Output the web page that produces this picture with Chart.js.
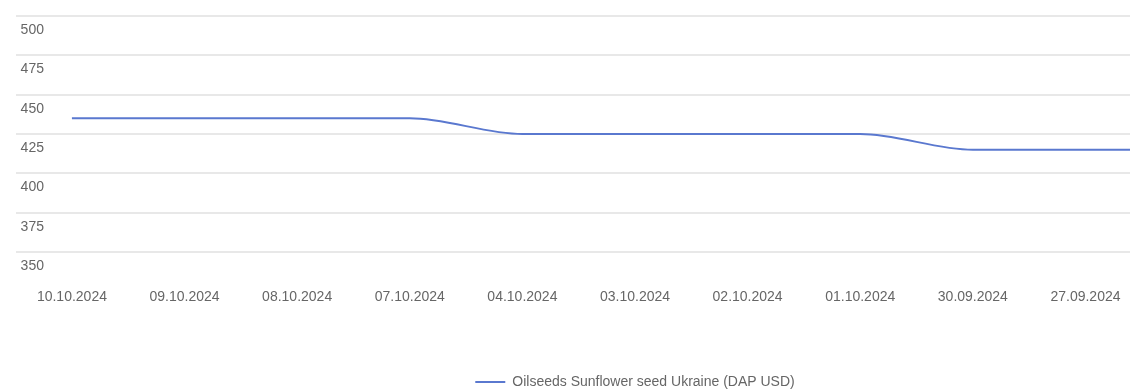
<!DOCTYPE html>
<html>
<head>
<meta charset="utf-8">
<script src="https://cdn.jsdelivr.net/npm/chart.js@4.4.1/dist/chart.umd.min.js"></script>
<style>
  html, body { margin: 0; padding: 0; background: #fff; overflow: hidden; }
  #wrap { position: relative; width: 1270px; height: 399px; }
</style>
</head>
<body>
<div id="wrap"><canvas id="c"></canvas></div>
<script>
const categories = ["10.10.2024","09.10.2024","08.10.2024","07.10.2024","04.10.2024","03.10.2024","02.10.2024","01.10.2024","30.09.2024","27.09.2024","26.09.2024"];
const seriesName = "Oilseeds Sunflower seed Ukraine (DAP USD)";
const seriesValues = [435, 435, 435, 435, 425, 425, 425, 425, 415, 415, 415];
const yMin = 350, yMax = 500, yStep = 25;

const font = { family: "'Liberation Sans', Arial, sans-serif", size: 14 };
new Chart(document.getElementById('c'), {
  type: 'line',
  data: {
    labels: categories,
    datasets: [{
      label: seriesName,
      data: seriesValues,
      borderColor: '#5a78cf',
      backgroundColor: '#5a78cf',
      borderWidth: 2,
      pointRadius: 0,
      cubicInterpolationMode: 'monotone',
      fill: false
    }]
  },
  options: {
    responsive: true,
    maintainAspectRatio: false,
    animation: false,
    layout: { padding: { top: 16, left: 0, right: 0, bottom: 0 } },
    plugins: {
      tooltip: { enabled: false },
      legend: {
        position: 'bottom',
        labels: {
          usePointStyle: true,
          pointStyle: 'line',
          pointStyleWidth: 30,
          color: '#666',
          font: font,
          padding: 10
        }
      }
    },
    scales: {
      x: {
        offset: true,
        grid: { display: false, drawTicks: false },
        border: { display: false },
        ticks: { color: '#666', font: font, padding: 37, maxRotation: 0, autoSkip: false },
        afterFit(scale) { scale.height = 113; }
      },
      y: {
        min: yMin, max: yMax,
        grid: { color: '#e8e8e8', lineWidth: 2, drawTicks: false },
        border: { display: false },
        ticks: { stepSize: yStep, mirror: true, labelOffset: 14, padding: 5, color: '#666', font: font },
        afterFit(scale) { scale.width = 13; }
      }
    }
  }
});
</script>
</body>
</html>
